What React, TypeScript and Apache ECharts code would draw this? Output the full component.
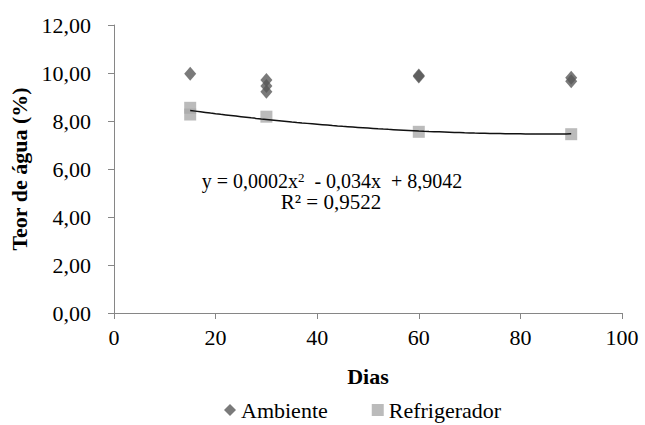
import React, { useEffect, useRef } from "react";
import * as echarts from "echarts";

// Storage time (days) and water content (%) for each condition
const ambienteDias = [15, 30, 30, 30, 60, 60, 90, 90];
const ambienteTeor = [9.97, 9.71, 9.46, 9.22, 9.9, 9.85, 9.8, 9.66];

const refrigDias = [15, 15, 30, 60, 90];
const refrigTeor = [8.55, 8.27, 8.18, 7.55, 7.45];

// Polynomial trend (Refrigerador): y = a x^2 + b x + c
const trendCoef = [0.0002, -0.034, 8.9042];
const trendRange = [15, 90];

const xTicks = [0, 20, 40, 60, 80, 100];

const FONT = "Liberation Serif";

export default function App() {
  const ref = useRef<HTMLDivElement>(null);

  useEffect(() => {
    if (!ref.current) return;
    const chart = echarts.init(ref.current, undefined, { renderer: "svg" });

    const trend: number[][] = [];
    for (let x = trendRange[0]; x <= trendRange[1]; x += 1) {
      trend.push([x, trendCoef[0] * x * x + trendCoef[1] * x + trendCoef[2]]);
    }

    const axisLine = { show: true, lineStyle: { color: "#868686", width: 1 } };

    chart.setOption({
      animation: false,
      backgroundColor: "#ffffff",
      textStyle: { fontFamily: FONT },
      grid: { left: 114, right: 23, top: 25, bottom: 112, containLabel: false },
      xAxis: {
        type: "value",
        min: xTicks[0],
        max: xTicks[xTicks.length - 1],
        interval: 20,
        axisLine,
        axisTick: { show: true, length: 6, lineStyle: { color: "#868686" } },
        splitLine: { show: false },
        axisLabel: { fontSize: 22, color: "#000", fontFamily: FONT, margin: 13 },
        name: "Dias",
        nameLocation: "middle",
        nameGap: 52,
        nameTextStyle: { fontSize: 22, fontWeight: "bold", color: "#000", fontFamily: FONT },
      },
      yAxis: {
        type: "value",
        min: 0,
        max: 12,
        interval: 2,
        axisLine,
        axisTick: { show: true, length: 6, lineStyle: { color: "#868686" } },
        splitLine: { show: false },
        axisLabel: {
          fontSize: 22,
          color: "#000",
          fontFamily: FONT,
          margin: 23,
          formatter: (v: number) => v.toFixed(2).replace(".", ","),
        },
        name: "Teor de água (%)",
        nameLocation: "middle",
        nameGap: 80,
        nameTextStyle: { fontSize: 22, fontWeight: "bold", color: "#000", fontFamily: FONT },
      },
      legend: {
        left: 219,
        top: 394,
        itemWidth: 12,
        itemHeight: 12,
        itemGap: 44,
        textStyle: { fontSize: 22, color: "#000", fontFamily: FONT },
        data: [
          { name: "Ambiente", icon: "diamond" },
          { name: "Refrigerador", icon: "rect" },
        ],
      },
      series: [
        {
          name: "Ambiente",
          type: "scatter",
          symbol: "diamond",
          symbolSize: [12, 14],
          itemStyle: { color: "#595959" },
          data: ambienteDias.map((d, i) => [d, ambienteTeor[i]]),
          z: 2,
        },
        {
          name: "Refrigerador",
          type: "scatter",
          symbol: "rect",
          symbolSize: [12, 12],
          itemStyle: { color: "#AAAAAA" },
          data: refrigDias.map((d, i) => [d, refrigTeor[i]]),
          z: 2,
        },
        {
          name: "Tendência",
          type: "line",
          showSymbol: false,
          symbol: "none",
          lineStyle: { color: "#111", width: 1.5 },
          data: trend,
          z: 3,
          silent: true,
        },
      ],
      graphic: [
        {
          type: "text",
          x: 332,
          y: 181,
          style: {
            text: "{a|y = 0,0002x}{s|2}{a|  - 0,034x  + 8,9042}",
            align: "center",
            verticalAlign: "middle",
            rich: {
              a: { fontSize: 20, fontFamily: FONT, fill: "#000" },
              s: { fontSize: 13, fontFamily: FONT, fill: "#000", verticalAlign: "top" },
            },
          },
        },
        {
          type: "text",
          x: 331,
          y: 202,
          style: {
            text: "R² = 0,9522",
            align: "center",
            verticalAlign: "middle",
            fontSize: 21,
            fontFamily: FONT,
            fill: "#000",
          },
        },
      ],
    });

    return () => chart.dispose();
  }, []);

  return (
    <div style={{ position: "absolute", left: 0, top: 0 }}>
      <div ref={ref} style={{ width: 645, height: 425 }} />
    </div>
  );
}
